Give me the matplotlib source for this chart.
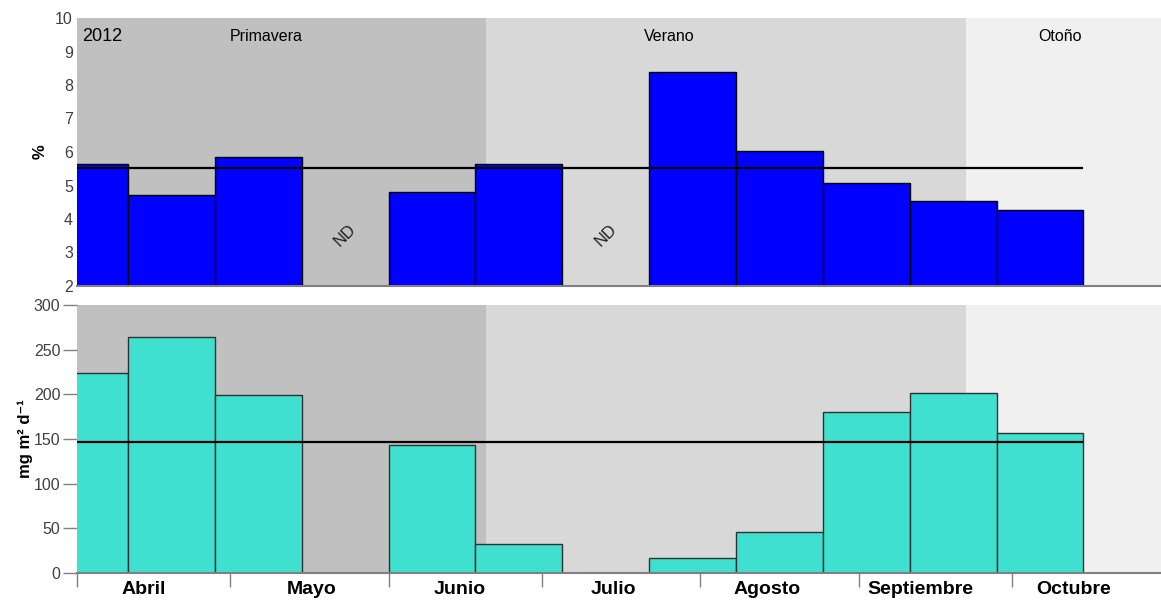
import matplotlib.pyplot as plt
import numpy as np

plt.rcParams['font.family'] = ['Liberation Sans', 'DejaVu Sans']

# x axis in days since 1 April 2012
month_names = ["Abril", "Mayo", "Junio", "Julio", "Agosto", "Septiembre", "Octubre"]
month_days = [30, 31, 30, 31, 31, 30, 31]
month_label_day = [13, 46, 75, 105, 135, 165, 195]

# sampling periods (start day, 17 day traps)
bin_start = [-7, 10, 27, 44, 61, 78, 95, 112, 129, 146, 163, 180]
bin_width = 17

pct = [5.63, 4.72, 5.86, np.nan, 4.81, 5.64, np.nan, 8.40, 6.04, 5.08, 4.55, 4.26]
flux = [224, 264, 199, np.nan, 143, 32, np.nan, 17, 46, 180, 201, 157]
pct_mean = 5.52
flux_mean = 147

# seasons
season_names = ["Primavera", "Verano", "Otoño"]
season_start = [0, 80, 174]
season_end = [80, 174, 213]
season_label_day = [37, 116, 192.5]
season_colors = ["#c0c0c0", "#d8d8d8", "#f0f0f0"]

xmax = 212.2
month_edges = np.concatenate([[0], np.cumsum(month_days)])

fig = plt.figure(figsize=(11.61, 6), dpi=100)
ax1 = fig.add_axes([77 / 1161, 314 / 600, 1084 / 1161, 268 / 600])
ax2 = fig.add_axes([77 / 1161, 27 / 600, 1084 / 1161, 268 / 600])

for ax in (ax1, ax2):
    for s0, s1, c in zip(season_start, season_end, season_colors):
        ax.axvspan(s0, s1, color=c, lw=0, zorder=0)
    for sp in ["top", "right", "left"]:
        ax.spines[sp].set_visible(False)
    ax.spines["bottom"].set_color("#808080")
    ax.spines["bottom"].set_linewidth(1.5)
    ax.spines["bottom"].set_zorder(5)

# ---- top panel: %
ok = ~np.isnan(pct)
ax1.bar(np.array(bin_start)[ok], np.array(pct)[ok], width=bin_width, align="edge",
        color="#0000ff", edgecolor="black", linewidth=1, zorder=2)
ax1.hlines(pct_mean, 0, bin_start[-1] + bin_width, color="black", lw=1.6, zorder=3)
ax1.set_ylim(2, 10)
ax1.set_yticks(range(2, 11))
ax1.tick_params(axis="y", length=0, labelsize=11.5, labelcolor="#404040", pad=3)
ax1.set_xticks([])
ax1.set_ylabel("%", fontsize=12, fontweight="bold")
ax1.yaxis.set_label_coords(-0.027, 0.5)

for i, v in enumerate(pct):
    if np.isnan(v):
        ax1.text(bin_start[i] + bin_width / 2, 3.5, "ND", rotation=45, fontsize=12,
                 ha="center", va="center", color="#202020")

ax1.text(1.0, 9.46, "2012", fontsize=13, ha="left", va="center")
for name, xd in zip(season_names, season_label_day):
    ax1.text(xd, 9.46, name, fontsize=11.5, ha="center", va="center")

# ---- bottom panel: flux
ok = ~np.isnan(flux)
ax2.bar(np.array(bin_start)[ok], np.array(flux)[ok], width=bin_width, align="edge",
        color="#40e0d0", edgecolor="#303030", linewidth=1, zorder=2)
ax2.hlines(flux_mean, 0, bin_start[-1] + bin_width, color="black", lw=1.6, zorder=3)
ax2.set_ylim(0, 300)
ax2.set_yticks(range(0, 301, 50))
ax2.tick_params(axis="y", length=10, width=1, color="#808080", labelsize=11.5,
                labelcolor="#404040", pad=2)
ax2.set_ylabel("mg m² d⁻¹", fontsize=12, fontweight="bold")
ax2.yaxis.set_label_coords(-0.041, 0.5)

ax2.set_xticks(month_edges)
ax2.set_xticklabels([])
ax2.tick_params(axis="x", which="major", length=10, width=1, color="#808080")
ax2.set_xticks(month_label_day, minor=True)
ax2.set_xticklabels(month_names, minor=True, fontsize=14, fontweight="bold")
ax2.tick_params(axis="x", which="minor", length=0, pad=6)

for ax in (ax1, ax2):
    ax.set_xlim(0, xmax)

fig.savefig("out.png", dpi=100)
